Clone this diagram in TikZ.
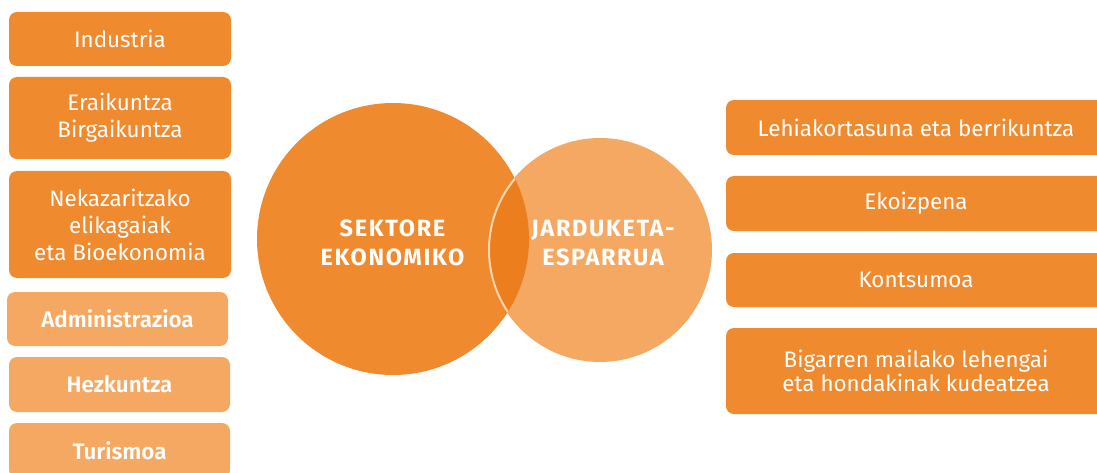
\documentclass[tikz,border=0pt]{standalone}
\usepackage{fontspec}
\setmainfont{Fira Sans}[BoldFont={Fira Sans SemiBold}]
\newfontfamily\circfont{Fira Sans}[UprightFont={* Bold}, LetterSpace=7]
\definecolor{dorange}{HTML}{F08A2F}
\definecolor{lorange}{HTML}{F4A862}
\definecolor{iorange}{HTML}{EC7E1E}
\definecolor{pale}{HTML}{FAD6B0}
\tikzset{
  box/.style={rounded corners=8pt, text=white, align=center, inner sep=0pt,
    font=\fontsize{22.4}{27}\selectfont},
  dbox/.style={box, fill=dorange},
  lbox/.style={box, fill=lorange, font=\fontsize{22.4}{27}\selectfont\bfseries},
  circlabel/.style={text=white, align=center, font=\circfont\fontsize{23.5}{29}\selectfont}
}
\begin{document}
\begin{tikzpicture}[x=1pt,y=-1pt]
\useasboundingbox (0,0) rectangle (1097,473);
\begin{scope}
\clip (0,0) rectangle (1097,473);
% left boxes
\node[dbox, minimum width=222pt, minimum height=54pt] (ind) at (120,39) {Industria};
\node[dbox, minimum width=222pt, minimum height=82pt] (era) at (120,118) {Eraikuntza\\Birgaikuntza};
\node[dbox, minimum width=222pt, minimum height=107pt] (nek) at (120,224.5) {Nekazaritzako\\elikagaiak\\eta Bioekonomia};
\node[lbox, minimum width=221pt, minimum height=54pt] (adm) at (117.5,319) {Administrazioa};
\node[lbox, minimum width=221pt, minimum height=55pt] (hez) at (119.5,384.5) {Hezkuntza};
\node[lbox, minimum width=221pt, minimum height=55pt] (tur) at (119.5,450.5) {Turismoa};
% right boxes
\node[dbox, minimum width=380pt, minimum height=55pt] (leh) at (916,127.5) {Lehiakortasuna eta berrikuntza};
\node[dbox, minimum width=380pt, minimum height=55pt] (eko) at (916,203.5) {Ekoizpena};
\node[dbox, minimum width=380pt, minimum height=54pt] (kon) at (916,280) {Kontsumoa};
\node[dbox, minimum width=380pt, minimum height=86pt, font=\fontsize{22.4}{24}\selectfont] (big) at (916,371) {Bigarren mailako lehengai\\eta hondakinak kudeatzea};
\end{scope}
% circles
\node[circle, fill=dorange, minimum size=272pt, inner sep=0pt] (sek) at (393,239) {};
\node[circle, fill=lorange, minimum size=224pt, inner sep=0pt] (jar) at (600,250) {};
\begin{scope}
\clip (sek.center) circle (136pt);
\fill[iorange] (jar.center) circle (112pt);
\draw[pale, line width=2pt] (jar.center) circle (111pt);
\end{scope}
\node[circlabel] (sekl) at (392.5,243) {SEKTORE\\EKONOMIKO};
\node[circlabel] (jarl) at (603,243) {JARDUKETA-\\ESPARRUA};
\end{tikzpicture}
\end{document}
